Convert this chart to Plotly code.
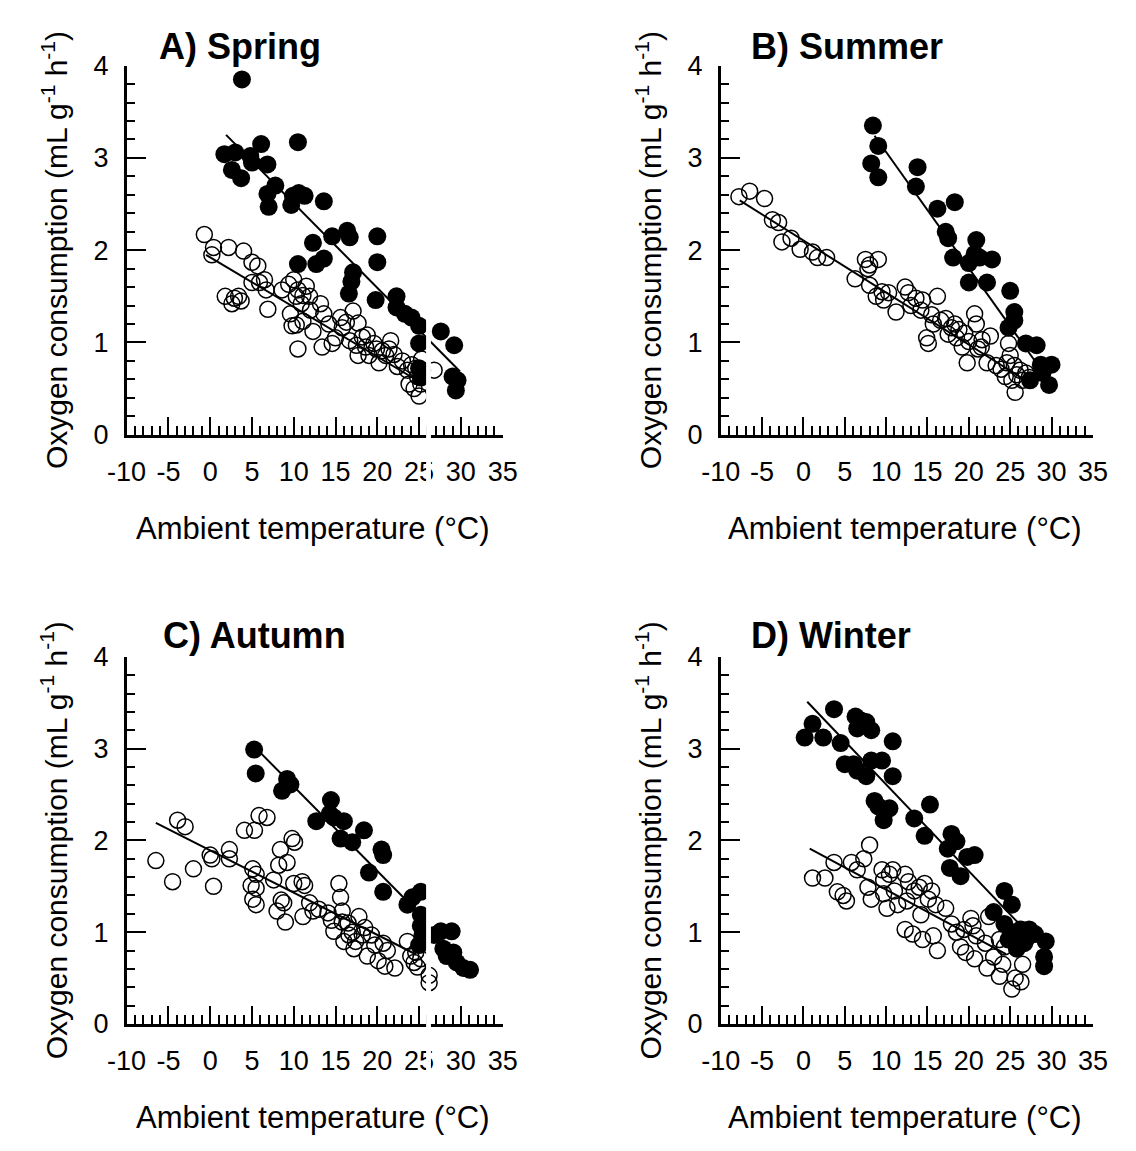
import plotly.graph_objects as go

W, H = 1136, 1151
FONT = "Liberation Sans, Arial, Helvetica, sans-serif"

# ---------------- data ----------------
x_tick_vals = [-10, -5, 0, 5, 10, 15, 20, 25, 30, 35]
x_tick_labels = ["-10", "-5", "0", "5", "10", "15", "20", "25", "30", "35"]
y_tick_vals = [0, 1, 2, 3, 4]
y_tick_labels = ["0", "1", "2", "3", "4"]

panel_titles = ["A) Spring", "B) Summer", "C) Autumn", "D) Winter"]

spring_filled_x = [3.8, 1.7, 3.0, 2.6, 3.7, 4.8, 5.0, 6.1, 6.85, 7.8, 6.85, 7.0, 10.5, 9.9, 9.7, 11.3, 13.6, 12.3, 12.7, 13.6,
                   10.5, 14.6, 16.4, 16.7, 17.1, 16.9, 16.6, 20.0, 20.0, 19.8, 22.3, 22.3, 23.3, 24.1, 25.0, 25.0, 27.6, 29.2,
                   29.0, 29.6, 29.4, 10.6, 25.0, 25.2]
spring_filled_y = [3.85, 3.04, 3.06, 2.87, 2.78, 3.02, 2.95, 3.15, 2.93, 2.70, 2.61, 2.47, 3.17, 2.59, 2.49, 2.59, 2.53, 2.08,
                   1.85, 1.91, 1.85, 2.15, 2.21, 2.14, 1.76, 1.66, 1.53, 2.15, 1.87, 1.46, 1.50, 1.38, 1.31, 1.27, 1.18, 0.99,
                   1.12, 0.97, 0.63, 0.59, 0.48, 2.62, 0.72, 0.62]
spring_open_x = [-0.7, 0.4, 2.2, 4.0, 5.0, 5.7, 1.8, 2.6, 3.4, 5.0, 5.9, 6.7, 6.9, 6.5, 8.6, 9.4, 10.0, 10.5, 11.1, 11.5,
                 10.9, 10.3, 11.9, 9.6, 9.8, 10.3, 10.5, 11.1, 12.3, 13.2, 13.6, 13.4, 14.6, 15.6, 15.8, 17.1, 16.7, 17.7,
                 18.2, 17.5, 17.7, 18.6, 19.0, 19.6, 20.2, 20.6, 21.6, 21.4, 22.0, 22.4, 23.6, 24.1, 23.8, 24.4, 25.0, 24.8,
                 25.4, 25.2, 26.8, 2.9, 3.7, 12.0, 14.2, 15.0, 16.3, 18.8, 19.9, 21.0, 23.0, 24.6, 25.3, 0.2]
spring_open_y = [2.17, 2.03, 2.03, 1.99, 1.87, 1.83, 1.50, 1.42, 1.50, 1.65, 1.65, 1.57, 1.36, 1.68, 1.57, 1.63, 1.68, 1.57,
                 1.51, 1.61, 1.42, 1.50, 1.50, 1.31, 1.18, 1.19, 0.93, 1.23, 1.12, 1.42, 1.31, 0.95, 0.99, 1.27, 1.16, 1.34,
                 1.02, 1.21, 1.06, 0.97, 0.86, 0.95, 0.86, 0.99, 0.78, 0.91, 1.02, 0.93, 0.87, 0.74, 0.70, 0.76, 0.55, 0.50,
                 0.42, 0.63, 0.70, 0.55, 0.70, 1.48, 1.45, 1.35, 1.20, 1.05, 1.22, 1.08, 0.93, 0.86, 0.80, 0.72, 0.82, 1.95]
spring_filled_fit_x = [1.9, 29.9]
spring_filled_fit_y = [3.25, 0.685]
spring_open_fit_x = [-0.5, 25.5]
spring_open_fit_y = [1.95, 0.55]

summer_filled_x = [8.4, 9.05, 8.2, 9.05, 13.8, 13.6, 16.2, 18.3, 17.2, 17.5, 18.1, 20.9, 20.7, 21.3, 20.0, 22.8, 20.0, 22.2,
                   25.0, 25.5, 25.5, 24.8, 26.9, 28.2, 28.7, 30.0, 29.7, 28.9, 27.4]
summer_filled_y = [3.35, 3.13, 2.94, 2.79, 2.90, 2.69, 2.45, 2.52, 2.20, 2.13, 1.92, 2.11, 1.96, 1.92, 1.86, 1.90, 1.65, 1.65,
                   1.56, 1.33, 1.24, 1.16, 0.99, 0.97, 0.76, 0.76, 0.54, 0.67, 0.59]
summer_open_x = [-7.8, -6.5, -4.7, -3.75, -3.0, -2.6, -1.5, -0.4, 1.1, 1.7, 2.8, 6.25, 7.5, 8.0, 9.05, 8.0, 8.8, 9.7, 10.3,
                 11.2, 12.3, 12.7, 13.6, 14.4, 14.2, 16.2, 14.9, 15.1, 15.7, 16.6, 17.2, 17.9, 18.3, 18.5, 19.2, 19.8, 20.0,
                 20.7, 20.9, 21.6, 21.1, 22.6, 22.2, 23.3, 24.4, 24.8, 25.0, 25.5, 25.6, 25.2, 26.5, 26.9, 23.9, 24.6, 17.5,
                 18.8, 7.8, 9.5, 13.0, 15.5, 19.5, 21.5, 25.8, 26.2, 27.3]
summer_open_y = [2.58, 2.64, 2.56, 2.33, 2.30, 2.09, 2.13, 2.01, 1.98, 1.92, 1.92, 1.69, 1.90, 1.84, 1.90, 1.62, 1.50, 1.46,
                 1.54, 1.33, 1.60, 1.54, 1.48, 1.46, 1.35, 1.50, 1.05, 0.99, 1.20, 1.24, 1.26, 1.16, 1.20, 1.05, 0.95, 0.78,
                 1.01, 1.31, 1.20, 1.03, 0.93, 1.07, 0.78, 0.75, 0.63, 0.99, 0.86, 0.75, 0.46, 0.59, 0.59, 0.67, 0.71, 0.78,
                 1.09, 1.14, 1.80, 1.55, 1.40, 1.30, 1.10, 0.95, 0.65, 0.70, 0.62]
summer_filled_fit_x = [8.6, 29.5]
summer_filled_fit_y = [3.24, 0.61]
summer_open_fit_x = [-7.7, 26.5]
summer_open_fit_y = [2.54, 0.61]

autumn_filled_x = [5.26, 5.45, 9.2, 8.6, 9.6, 14.45, 12.7, 14.3, 14.8, 16.0, 15.6, 17.0, 18.4, 20.5, 20.7, 19.0, 20.7, 23.6,
                   24.2, 25.2, 25.2, 25.2, 25.4, 26.8, 27.6, 28.9, 27.9, 29.1, 29.5, 30.3, 31.1, 28.3, 25.0]
autumn_filled_y = [2.99, 2.73, 2.67, 2.54, 2.61, 2.44, 2.21, 2.29, 2.25, 2.21, 2.02, 1.98, 2.11, 1.90, 1.84, 1.65, 1.44, 1.30,
                   1.38, 1.44, 1.19, 1.07, 0.97, 0.97, 1.01, 1.01, 0.82, 0.78, 0.67, 0.61, 0.59, 0.74, 0.86]
autumn_open_x = [-6.5, -4.5, -3.9, -3.0, -2.0, 0.0, 0.2, 0.4, 2.3, 2.3, 4.1, 5.3, 5.85, 6.8, 5.1, 5.5, 4.9, 5.5, 5.1, 5.5,
                 7.6, 8.4, 8.2, 9.2, 9.8, 10.1, 8.0, 9.0, 8.8, 10.0, 11.0, 11.3, 11.1, 11.9, 12.3, 14.1, 14.5, 15.4, 15.6,
                 14.8, 15.8, 16.0, 16.6, 17.4, 17.8, 18.2, 18.8, 19.3, 19.7, 20.1, 20.7, 20.9, 22.1, 23.6, 24.0, 24.6, 24.4,
                 25.2, 26.2, 26.2, 15.8, 17.2, 13.0, 16.5, 18.5, 21.2, 24.8, 17.0, 8.5]
autumn_open_y = [1.78, 1.55, 2.22, 2.15, 1.69, 1.84, 1.80, 1.50, 1.90, 1.80, 2.11, 2.11, 2.27, 2.25, 1.69, 1.63, 1.51, 1.48,
                 1.36, 1.30, 1.57, 1.90, 1.73, 1.76, 2.02, 1.98, 1.23, 1.11, 1.32, 1.53, 1.55, 1.51, 1.17, 1.32, 1.23, 1.21,
                 1.13, 1.53, 1.38, 1.01, 1.23, 0.90, 0.97, 0.90, 1.17, 0.97, 0.74, 0.97, 0.86, 0.69, 0.88, 0.63, 0.61, 0.90,
                 0.74, 0.78, 0.67, 0.71, 0.53, 0.45, 1.11, 0.82, 1.25, 1.10, 1.05, 0.80, 0.62, 1.00, 1.35]
autumn_filled_fit_x = [5.85, 25.5]
autumn_filled_fit_y = [2.97, 1.16]
autumn_open_fit_x = [-6.5, 24.6]
autumn_open_fit_y = [2.19, 0.76]

winter_filled_x = [0.15, 1.1, 2.4, 3.7, 4.5, 5.0, 6.3, 6.5, 6.9, 7.6, 8.2, 6.05, 6.5, 7.6, 8.2, 9.5, 10.8, 10.8, 8.6, 9.05,
                   10.4, 9.7, 13.4, 15.3, 14.65, 17.9, 18.5, 17.45, 17.7, 19.0, 20.7, 19.8, 24.3, 23.0, 25.2, 24.3, 24.8,
                   25.6, 26.3, 27.3, 26.7, 25.8, 29.3, 29.1, 29.1, 26.9, 28.0]
winter_filled_y = [3.12, 3.27, 3.12, 3.43, 3.06, 2.83, 3.35, 3.22, 3.31, 3.29, 3.20, 2.83, 2.76, 2.70, 2.87, 2.87, 3.08, 2.70,
                   2.43, 2.37, 2.35, 2.22, 2.24, 2.39, 2.05, 2.07, 1.99, 1.91, 1.70, 1.61, 1.84, 1.82, 1.45, 1.22, 1.30, 1.09,
                   0.92, 1.00, 1.03, 1.03, 0.88, 0.82, 0.90, 0.73, 0.63, 0.92, 0.98]
winter_open_x = [1.1, 2.6, 3.7, 4.1, 4.8, 5.2, 5.8, 6.5, 7.3, 8.0, 7.8, 8.2, 9.5, 9.7, 10.4, 10.8, 9.7, 10.1, 11.0, 11.4,
                 12.3, 12.7, 12.5, 13.4, 14.0, 14.65, 15.5, 15.1, 14.2, 16.0, 12.3, 13.2, 14.4, 15.7, 16.2, 17.2, 17.9, 18.5,
                 19.0, 19.6, 19.4, 20.25, 20.5, 20.9, 20.7, 22.0, 22.2, 23.0, 23.7, 24.1, 24.3, 25.2, 25.6, 26.3, 26.5, 22.4,
                 23.7]
winter_open_y = [1.59, 1.59, 1.76, 1.44, 1.40, 1.34, 1.76, 1.68, 1.80, 1.95, 1.49, 1.36, 1.68, 1.57, 1.63, 1.68, 1.42, 1.26,
                 1.45, 1.30, 1.63, 1.55, 1.34, 1.45, 1.49, 1.53, 1.45, 1.36, 1.19, 1.30, 1.03, 0.98, 0.92, 0.96, 0.80, 1.26,
                 1.09, 1.00, 0.84, 0.78, 1.03, 1.15, 1.07, 0.96, 0.71, 0.88, 0.61, 0.73, 0.52, 0.65, 0.84, 0.38, 0.50, 0.46,
                 0.65, 1.17, 0.92]
winter_filled_fit_x = [0.46, 28.0]
winter_filled_fit_y = [3.51, 0.91]
winter_open_fit_x = [0.76, 24.5]
winter_open_fit_y = [1.91, 0.76]

# ---------------- layout geometry (pixels) ----------------
x_px = [(110, 498), (723, 1107), (110, 498), (723, 1107)]
y_px = [(52, 431), (52, 431), (659, 1036), (659, 1036)]
title_px = [(141, 32), (752, 32), (145, 637), (752, 637)]


def px(v):
    return v / W


def py(v):
    return 1 - v / H


panels = [
    (spring_open_x, spring_open_y, spring_filled_x, spring_filled_y,
     spring_open_fit_x, spring_open_fit_y, spring_filled_fit_x, spring_filled_fit_y),
    (summer_open_x, summer_open_y, summer_filled_x, summer_filled_y,
     summer_open_fit_x, summer_open_fit_y, summer_filled_fit_x, summer_filled_fit_y),
    (autumn_open_x, autumn_open_y, autumn_filled_x, autumn_filled_y,
     autumn_open_fit_x, autumn_open_fit_y, autumn_filled_fit_x, autumn_filled_fit_y),
    (winter_open_x, winter_open_y, winter_filled_x, winter_filled_y,
     winter_open_fit_x, winter_open_fit_y, winter_filled_fit_x, winter_filled_fit_y),
]

fig = go.Figure()
annotations = []
shapes = []
layout_axes = {}

for i, (ox, oy, fx, fy, ofx, ofy, ffx, ffy) in enumerate(panels):
    n = i + 1
    xa = "x" if n == 1 else f"x{n}"
    ya = "y" if n == 1 else f"y{n}"
    fig.add_trace(go.Scatter(x=ox, y=oy, xaxis=xa, yaxis=ya, mode="markers", showlegend=False,
                             marker=dict(symbol="circle-open", size=16, color="black", line=dict(width=1.5))))
    fig.add_trace(go.Scatter(x=ofx, y=ofy, xaxis=xa, yaxis=ya, mode="lines", showlegend=False,
                             line=dict(color="black", width=2)))
    fig.add_trace(go.Scatter(x=ffx, y=ffy, xaxis=xa, yaxis=ya, mode="lines", showlegend=False,
                             line=dict(color="black", width=2)))
    fig.add_trace(go.Scatter(x=fx, y=fy, xaxis=xa, yaxis=ya, mode="markers", showlegend=False,
                             marker=dict(symbol="circle", size=18, color="black", line=dict(width=0))))

    xkey = "xaxis" if n == 1 else f"xaxis{n}"
    ykey = "yaxis" if n == 1 else f"yaxis{n}"
    layout_axes[xkey] = dict(
        domain=[px(x_px[i][0]), px(x_px[i][1])], anchor=ya, range=[-10, 35],
        tickmode="array", tickvals=x_tick_vals, ticktext=x_tick_labels,
        ticks="inside", ticklen=18, tickwidth=2, tickcolor="black",
        minor=dict(ticks="inside", ticklen=9, tickwidth=1.5, tickcolor="black",
                   tickmode="linear", tick0=0, dtick=1, showgrid=False),
        showline=True, linewidth=2.5, linecolor="black", showgrid=False, zeroline=False,
        tickfont=dict(family=FONT, size=27, color="black"), ticklabelstandoff=11,
    )
    layout_axes[ykey] = dict(
        domain=[py(y_px[i][1]), py(y_px[i][0])], anchor=xa, range=[0, 4],
        tickmode="array", tickvals=y_tick_vals, ticktext=y_tick_labels,
        ticks="inside", ticklen=20, tickwidth=2, tickcolor="black",
        minor=dict(ticks="inside", ticklen=9, tickwidth=1.5, tickcolor="black",
                   tickmode="linear", tick0=0, dtick=0.2, showgrid=False),
        showline=True, linewidth=2.5, linecolor="black", showgrid=False, zeroline=False,
        tickfont=dict(family=FONT, size=27, color="black"), ticklabelstandoff=10,
    )

    # panel title
    annotations.append(dict(text=f"<b>{panel_titles[i]}</b>", xref="paper", yref="paper",
                            x=px(title_px[i][0]), y=py(title_px[i][1]), xanchor="left", yanchor="middle",
                            showarrow=False, font=dict(family=FONT, size=36, color="black")))
    # x-axis title
    xc = (x_px[i][0] + x_px[i][1]) / 2
    xt_y = 527 if i < 2 else 1132
    annotations.append(dict(text="Ambient temperature (°C)", xref="paper", yref="paper",
                            x=px(xc - 2), y=py(xt_y), xanchor="center", yanchor="middle",
                            showarrow=False, font=dict(family=FONT, size=31, color="black")))
    # y-axis title
    yc = (y_px[i][0] + y_px[i][1]) / 2
    annotations.append(dict(text="Oxygen consumption (mL g<sup>-1</sup> h<sup>-1</sup>)", xref="paper", yref="paper",
                            x=px(x_px[i][0] - 74), y=py(yc), xanchor="center", yanchor="middle", textangle=-90,
                            showarrow=False, font=dict(family=FONT, size=30, color="black")))

# white scan-break strips in panels A and C
for (top, bottom) in [(40, 485), (647, 1090)]:
    shapes.append(dict(type="rect", xref="paper", yref="paper", x0=px(419), x1=px(424),
                       y0=py(bottom), y1=py(top), fillcolor="white", line=dict(width=0), layer="above"))

fig.update_layout(
    width=W, height=H, margin=dict(l=0, r=0, t=0, b=0),
    paper_bgcolor="white", plot_bgcolor="white",
    annotations=annotations, shapes=shapes, showlegend=False,
    font=dict(family=FONT, color="black"),
    **layout_axes,
)

fig.write_html("out.html")
